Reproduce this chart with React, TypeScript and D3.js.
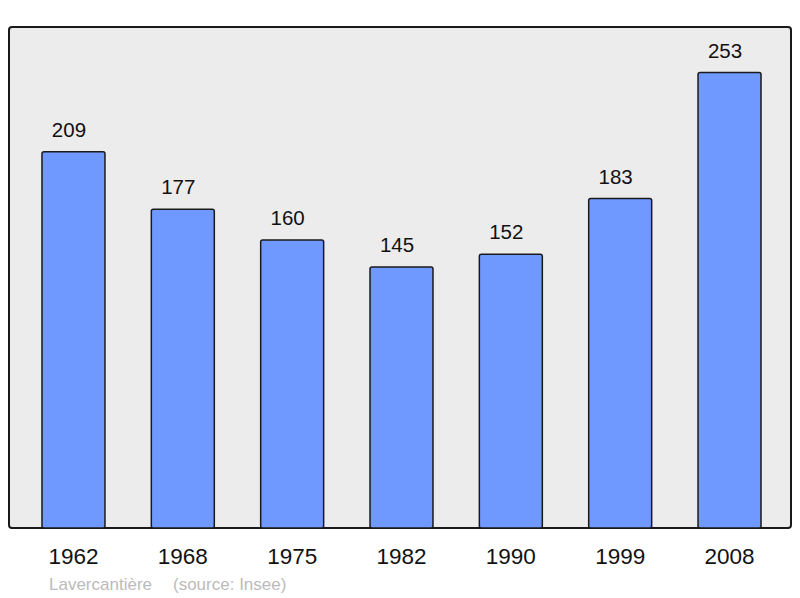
import React, { useEffect, useRef } from "react";
import * as d3 from "d3";

const years = ["1962", "1968", "1975", "1982", "1990", "1999", "2008"];
const population = [209, 177, 160, 145, 152, 183, 253];
const commune = "Lavercantière";
const source = "(source: Insee)";

export default function App() {
  const svgRef = useRef<SVGSVGElement>(null);

  useEffect(() => {
    const width = 800;
    const height = 598;
    const frame = { left: 9, top: 27, right: 791, bottom: 528 };

    const svg = d3.select(svgRef.current);
    svg.selectAll("*").remove();
    svg.attr("width", width).attr("height", height);

    const x = d3
      .scaleBand()
      .domain(years)
      .range([10.5, 792.5])
      .paddingInner(0.424)
      .paddingOuter(0.288);

    const y = d3
      .scaleLinear()
      .domain([0, 278.3])
      .range([frame.bottom, frame.top]);

    svg
      .append("rect")
      .attr("x", frame.left)
      .attr("y", frame.top)
      .attr("width", frame.right - frame.left)
      .attr("height", frame.bottom - frame.top)
      .attr("rx", 3)
      .attr("fill", "#ececec")
      .attr("stroke", "#1a1a1a")
      .attr("stroke-width", 2);

    const font = "'Liberation Sans', Arial, sans-serif";

    svg
      .append("g")
      .selectAll("rect")
      .data(population)
      .enter()
      .append("rect")
      .attr("x", (d, i) => x(years[i])!)
      .attr("y", (d) => y(d))
      .attr("width", x.bandwidth())
      .attr("height", (d) => y(0) - y(d))
      .attr("rx", 2)
      .attr("fill", "#7099ff")
      .attr("stroke", "#1a1a1a")
      .attr("stroke-width", 1.5);

    // value labels sit a little left of the bar centre, as in the original
    svg
      .append("g")
      .selectAll("text")
      .data(population)
      .enter()
      .append("text")
      .attr("x", (d, i) => x(years[i])! + x.bandwidth() / 2 - 4.5)
      .attr("y", (d) => y(d) - 15)
      .attr("text-anchor", "middle")
      .attr("font-family", font)
      .attr("font-size", 20.5)
      .attr("fill", "#111")
      .text((d) => d);

    // years along the bottom, no axis line of its own
    const axis = svg
      .append("g")
      .attr("transform", `translate(0, ${frame.bottom})`)
      .call(d3.axisBottom(x).tickSize(0).tickPadding(0));
    axis.select(".domain").remove();
    axis
      .selectAll("text")
      .attr("dy", 0)
      .attr("y", 36)
      .attr("font-family", font)
      .attr("font-size", 22.5)
      .attr("fill", "#111");

    const foot = svg
      .append("text")
      .attr("y", 590)
      .attr("font-family", font)
      .attr("font-size", 17)
      .attr("fill", "#bbbbbb");
    foot.append("tspan").attr("x", 49).text(commune);
    foot.append("tspan").attr("x", 173).text(source);
  }, []);

  return (
    <svg
      ref={svgRef}
      style={{ position: "absolute", left: 0, top: 0, display: "block" }}
    ></svg>
  );
}
